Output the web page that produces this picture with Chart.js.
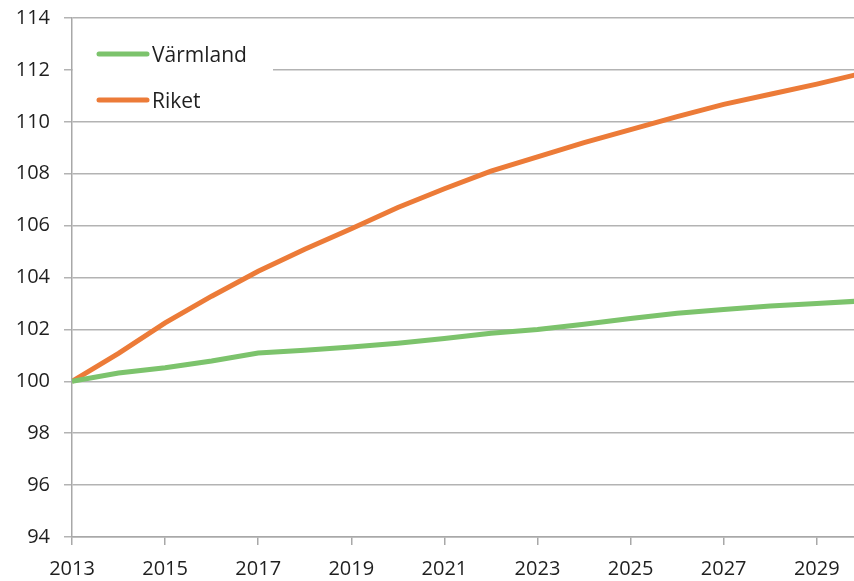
<!DOCTYPE html>
<html>
<head>
<meta charset="utf-8">
<script src="https://cdn.jsdelivr.net/npm/chart.js@4/dist/chart.umd.min.js"></script>
<style>
  html, body { margin: 0; padding: 0; background: #ffffff; }
  #c { display: block; }
</style>
</head>
<body>
<canvas id="c" width="854" height="581"></canvas>
<script>
// ---- Data ----
const years = [2013, 2014, 2015, 2016, 2017, 2018, 2019, 2020, 2021, 2022, 2023, 2024, 2025, 2026, 2027, 2028, 2029, 2030];
const varmland = [100, 100.32, 100.52, 100.78, 101.09, 101.2, 101.32, 101.47, 101.65, 101.85, 102.0, 102.2, 102.42, 102.62, 102.77, 102.9, 103.0, 103.1];
const riket = [100, 101.08, 102.25, 103.28, 104.24, 105.09, 105.88, 106.7, 107.42, 108.1, 108.65, 109.2, 109.7, 110.2, 110.67, 111.06, 111.45, 111.88];
const seriesNames = ['Värmland', 'Riket'];
const xTickLabels = [2013, 2015, 2017, 2019, 2021, 2023, 2025, 2027, 2029];
const yMin = 94, yMax = 114, yStep = 2;

const FONT = '"Open Sans", "Liberation Sans", sans-serif';
const TEXT = '#1f1f1f';

const legendPlugin = {
  id: 'insideLegend',
  beforeDatasetsDraw(chart) {
    const ctx = chart.ctx;
    const ca = chart.chartArea;
    ctx.save();
    ctx.fillStyle = '#ffffff';
    ctx.fillRect(ca.left + 1, ca.top + 10, 200, 92);
    chart.data.datasets.forEach((ds, i) => {
      const y = ca.top + 36 + i * 46;
      ctx.strokeStyle = ds.borderColor;
      ctx.lineWidth = 5;
      ctx.lineCap = 'round';
      ctx.beginPath();
      ctx.moveTo(ca.left + 27, y);
      ctx.lineTo(ca.left + 75, y);
      ctx.stroke();
      ctx.fillStyle = TEXT;
      ctx.font = '21px ' + FONT;
      ctx.textBaseline = 'middle';
      ctx.textAlign = 'left';
      ctx.fillText(ds.label, ca.left + 80, y + 2);
    });
    ctx.restore();
  }
};

new Chart(document.getElementById('c'), {
  type: 'line',
  data: {
    datasets: [
      {
        label: seriesNames[0],
        data: years.map((yr, i) => ({ x: yr, y: varmland[i] })),
        borderColor: '#7cc36c',
        borderWidth: 5,
        pointRadius: 0,
        tension: 0,
        fill: false
      },
      {
        label: seriesNames[1],
        data: years.map((yr, i) => ({ x: yr, y: riket[i] })),
        borderColor: '#ec7b38',
        borderWidth: 5,
        pointRadius: 0,
        tension: 0,
        fill: false
      }
    ]
  },
  options: {
    responsive: false,
    animation: false,
    layout: { padding: { top: 18, right: 0, bottom: 0, left: 0 } },
    plugins: { legend: { display: false }, tooltip: { enabled: false } },
    scales: {
      x: {
        type: 'linear',
        min: 2013,
        max: 2029.8,
        afterBuildTicks(scale) { scale.ticks = xTickLabels.map(v => ({ value: v })); },
        afterFit(scale) { scale.height = 44; scale.paddingLeft = 0; scale.paddingRight = 0; },
        grid: { drawOnChartArea: false, drawTicks: true, tickLength: 8, color: '#a8a8a8', lineWidth: 1.5 },
        border: { display: true, color: '#a8a8a8', width: 1.5 },
        ticks: {
          autoSkip: false,
          maxRotation: 0,
          padding: 12,
          color: TEXT,
          font: { family: FONT, size: 20 },
          callback: (v) => String(v)
        }
      },
      y: {
        min: yMin,
        max: yMax,
        afterFit(scale) { scale.width = 72; scale.paddingTop = 0; scale.paddingBottom = 0; },
        grid: { color: '#b3b3b3', lineWidth: 1.5, drawTicks: true, tickLength: 8 },
        border: { display: true, color: '#a8a8a8', width: 1.5 },
        ticks: {
          stepSize: yStep,
          padding: 14,
          color: TEXT,
          font: { family: FONT, size: 20 },
          callback: (v) => String(v)
        }
      }
    }
  },
  plugins: [legendPlugin]
});
</script>
</body>
</html>
